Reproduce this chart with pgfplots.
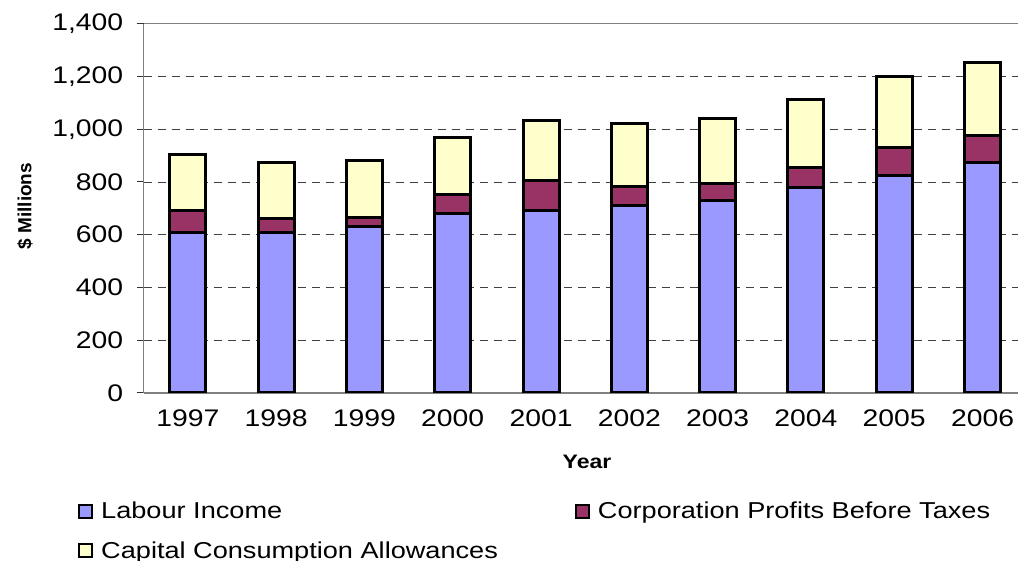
\documentclass[border=0pt]{standalone}
\usepackage{fontspec}
\setmainfont{Liberation Sans}[FakeStretch=1.18]
\newfontfamily\plainsans{Liberation Sans}
\usepackage{pgfplots}
\pgfplotsset{compat=1.18}
\definecolor{labour}{HTML}{9999FF}
\definecolor{corp}{HTML}{993366}
\definecolor{capital}{HTML}{FFFFCC}
\begin{document}
\begin{tikzpicture}[x=1bp,y=1bp]
\useasboundingbox (0,0) rectangle (1018,561);
\begin{axis}[
  at={(143.7bp,168bp)}, anchor=south west,
  scale only axis, width=874.3bp, height=369.3bp,
  xmin=-0.5, xmax=9.402, ymin=0, ymax=1400,
  ybar stacked, bar width=36bp,
  axis x line*=bottom, axis y line*=left,
  axis line style={-, draw=gray, line width=1.5bp},
  ytick={0,200,...,1200},
  extra y ticks={1400},
  extra y tick style={grid style={solid, draw=gray, line width=1.5bp}},
  ymajorgrids,
  grid style={black!75, line width=0.8bp, dash pattern=on 8bp off 6bp},
  xtick={0,...,9},
  xticklabels={1997,1998,1999,2000,2001,2002,2003,2004,2005,2006},
  major x tick style={draw=none},
  extra x ticks={-0.5,0.5,1.5,2.5,3.5,4.5,5.5,6.5,7.5,8.5},
  extra x tick labels={},
  extra x tick style={grid=none, major tick length=7bp, tick style={draw=black!80, line width=1bp}},
  tick align=outside,
  major tick length=7bp,
  ytick style={draw=black!80, line width=1bp},
  /pgf/number format/assume math mode=true,
  /pgf/number format/1000 sep={,},
  tick label style={font=\fontsize{24bp}{28bp}\selectfont, text=black},
  yticklabel style={xshift=-10bp},
  xticklabel style={yshift=-6bp},
  xlabel={Year},
  xlabel style={at={(axis description cs:0.507,-0.1868)}, anchor=center, font=\bfseries\fontsize{19.5bp}{22bp}\selectfont},
  ylabel={\$ Millions},
  ylabel style={at={(axis description cs:-0.1358,0.506)}, anchor=center, font=\plainsans\bfseries\fontsize{19bp}{22bp}\selectfont},
  legend columns=2,
  legend cell align=left,
  legend style={at={(axis description cs:-0.0751,-0.290)}, anchor=north west, draw=none, fill=none, inner sep=0pt,
    font=\fontsize{23bp}{27bp}\selectfont, row sep=17bp,
    /tikz/every even column/.append style={column sep=75bp}},
  legend image code/.code={\draw[#1, draw=black, line width=2bp] (0bp,-6.5bp) rectangle (13bp,6.5bp); \path[draw=none, fill=none] (0bp,0bp) -- (20bp,0bp);},
]
\addplot[fill=labour, draw=black, line width=3bp] coordinates {(0,610) (1,607) (2,631) (3,682) (4,690) (5,710) (6,729) (7,779) (8,826) (9,874)};
\addplot[fill=corp, draw=black, line width=3bp] coordinates {(0,83) (1,56) (2,36) (3,71) (4,116) (5,73) (6,67) (7,77) (8,105) (9,101)};
\addplot[fill=capital, draw=black, line width=3bp] coordinates {(0,211) (1,210) (2,213) (3,217) (4,227) (5,238) (6,246) (7,255) (8,267) (9,279)};
\legend{Labour Income, Corporation Profits Before Taxes, Capital Consumption Allowances}
\end{axis}
\end{tikzpicture}
\end{document}
